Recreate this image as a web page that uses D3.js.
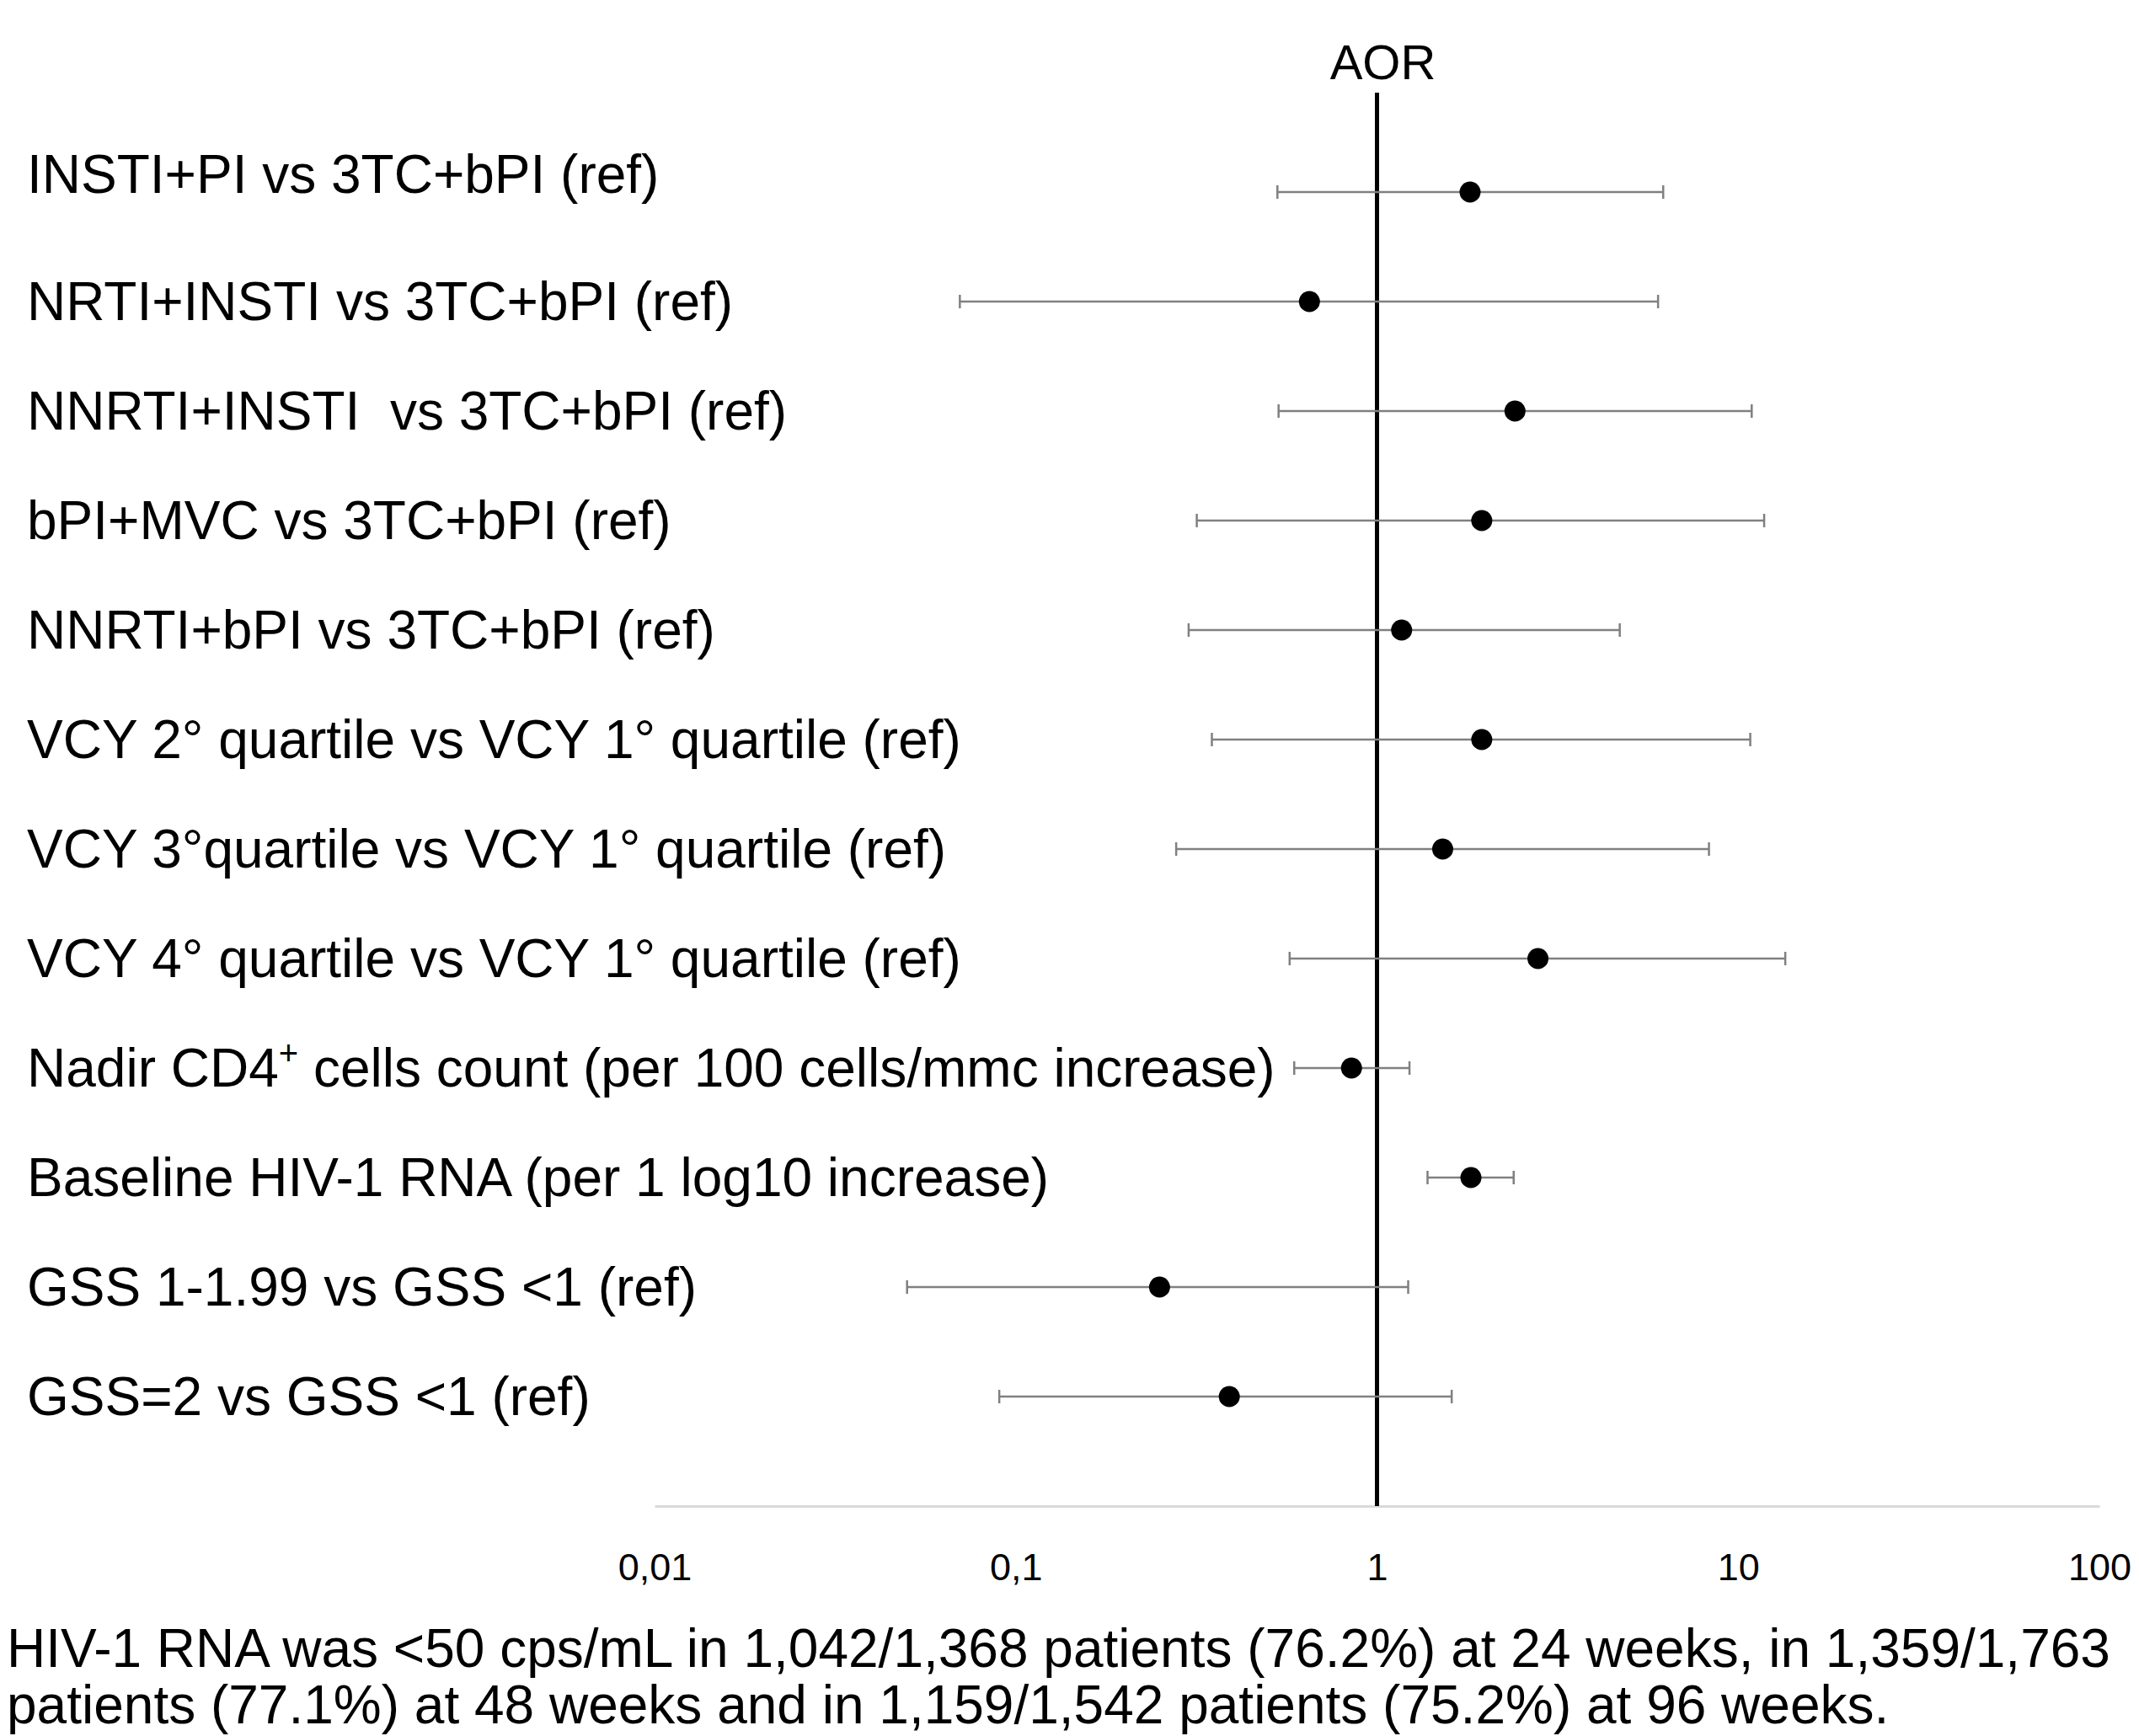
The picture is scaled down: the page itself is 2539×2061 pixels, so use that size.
<!DOCTYPE html>
<html><head><meta charset="utf-8">
<script src="https://cdn.jsdelivr.net/npm/d3@7"></script>
<style>body{margin:0;background:#fff}svg{display:block}text{font-family:"Liberation Sans",Arial,sans-serif;white-space:pre}</style>
</head><body>
<script>
const categories = [
  "INSTI+PI vs 3TC+bPI (ref)",
  "NRTI+INSTI vs 3TC+bPI (ref)",
  "NNRTI+INSTI  vs 3TC+bPI (ref)",
  "bPI+MVC vs 3TC+bPI (ref)",
  "NNRTI+bPI vs 3TC+bPI (ref)",
  "VCY 2° quartile vs VCY 1° quartile (ref)",
  "VCY 3°quartile vs VCY 1° quartile (ref)",
  "VCY 4° quartile vs VCY 1° quartile (ref)",
  "Nadir CD4|+| cells count (per 100 cells/mmc increase)",
  "Baseline HIV-1 RNA (per 1 log10 increase)",
  "GSS 1-1.99 vs GSS <1 (ref)",
  "GSS=2 vs GSS <1 (ref)"
];
const aor   = [1.81, 0.65, 2.41, 1.95, 1.17, 1.95, 1.52, 2.79, 0.85, 1.82, 0.25, 0.39];
const lower = [0.53, 0.070, 0.534, 0.317, 0.301, 0.349, 0.278, 0.573, 0.59, 1.38, 0.050, 0.090];
const upper = [6.2, 6.0, 10.9, 11.8, 4.7, 10.8, 8.3, 13.5, 1.23, 2.39, 1.22, 1.61];
const tickValues = [0.01, 0.1, 1, 10, 100];
const tickLabels = ["0,01", "0,1", "1", "10", "100"];
const axisTitle = "AOR";
const footnote = [
  "HIV-1 RNA was <50 cps/mL in 1,042/1,368 patients (76.2%) at 24 weeks, in 1,359/1,763",
  "patients (77.1%) at 48 weeks and in 1,159/1,542 patients (75.2%) at 96 weeks."
];

const W = 2539, H = 2061;
const svg = d3.select("body").append("svg").attr("width", W).attr("height", H);

const x = d3.scaleLog().domain([0.01, 100]).range([777, 2492]);
const y = d3.scalePoint().domain(d3.range(categories.length)).range([228, 1658]);
const axisY = 1788;

// axis
const axis = d3.axisBottom(x).tickValues(tickValues)
  .tickFormat((d, i) => tickLabels[i]).tickSize(0).tickSizeOuter(0).tickPadding(56);
const ag = svg.append("g").attr("transform", `translate(0,${axisY})`).call(axis);
ag.select(".domain").attr("stroke", "#d9d9d9").attr("stroke-width", 3);
ag.selectAll(".tick text").attr("font-size", 45).attr("fill", "#000")
  .style("font-family", '"Liberation Sans",Arial,sans-serif');

// reference line at 1
svg.append("line").attr("x1", x(1)).attr("x2", x(1)).attr("y1", 110).attr("y2", axisY)
  .attr("stroke", "#000").attr("stroke-width", 5);

svg.append("text").attr("x", x(1) + 7).attr("y", 94).attr("text-anchor", "middle")
  .attr("font-size", 58).text(axisTitle);

// labels
const lab = svg.append("g");
categories.forEach((c, i) => {
  const dy = i === 0 ? -21 : 0;
  const t = lab.append("text").attr("x", 32).attr("y", y(i) + 22 + dy).attr("font-size", 64).attr("fill", "#000");
  const parts = c.split("|");
  let shift = 0;
  parts.forEach((p, k) => {
    if (k % 2 === 1) {
      t.append("tspan").attr("font-size", 40).attr("dy", -26).text(p);
      shift = 26;
    } else {
      const s = t.append("tspan").text(p);
      if (shift) { s.attr("dy", shift); shift = 0; }
    }
  });
});

// error bars
const eb = svg.append("g").attr("stroke", "#808080").attr("stroke-width", 2.5);
categories.forEach((c, i) => {
  eb.append("line").attr("x1", x(lower[i])).attr("x2", x(upper[i])).attr("y1", y(i)).attr("y2", y(i));
  [lower[i], upper[i]].forEach(v => {
    eb.append("line").attr("x1", x(v)).attr("x2", x(v)).attr("y1", y(i) - 8).attr("y2", y(i) + 8);
  });
});
svg.append("g").selectAll("circle").data(aor).join("circle")
  .attr("cx", d => x(d)).attr("cy", (d, i) => y(i)).attr("r", 12.5).attr("fill", "#000");

// footnote
footnote.forEach((f, i) => {
  svg.append("text").attr("x", 8).attr("y", 1979 + i * 67).attr("font-size", 64).text(f);
});
</script>
</body></html>
